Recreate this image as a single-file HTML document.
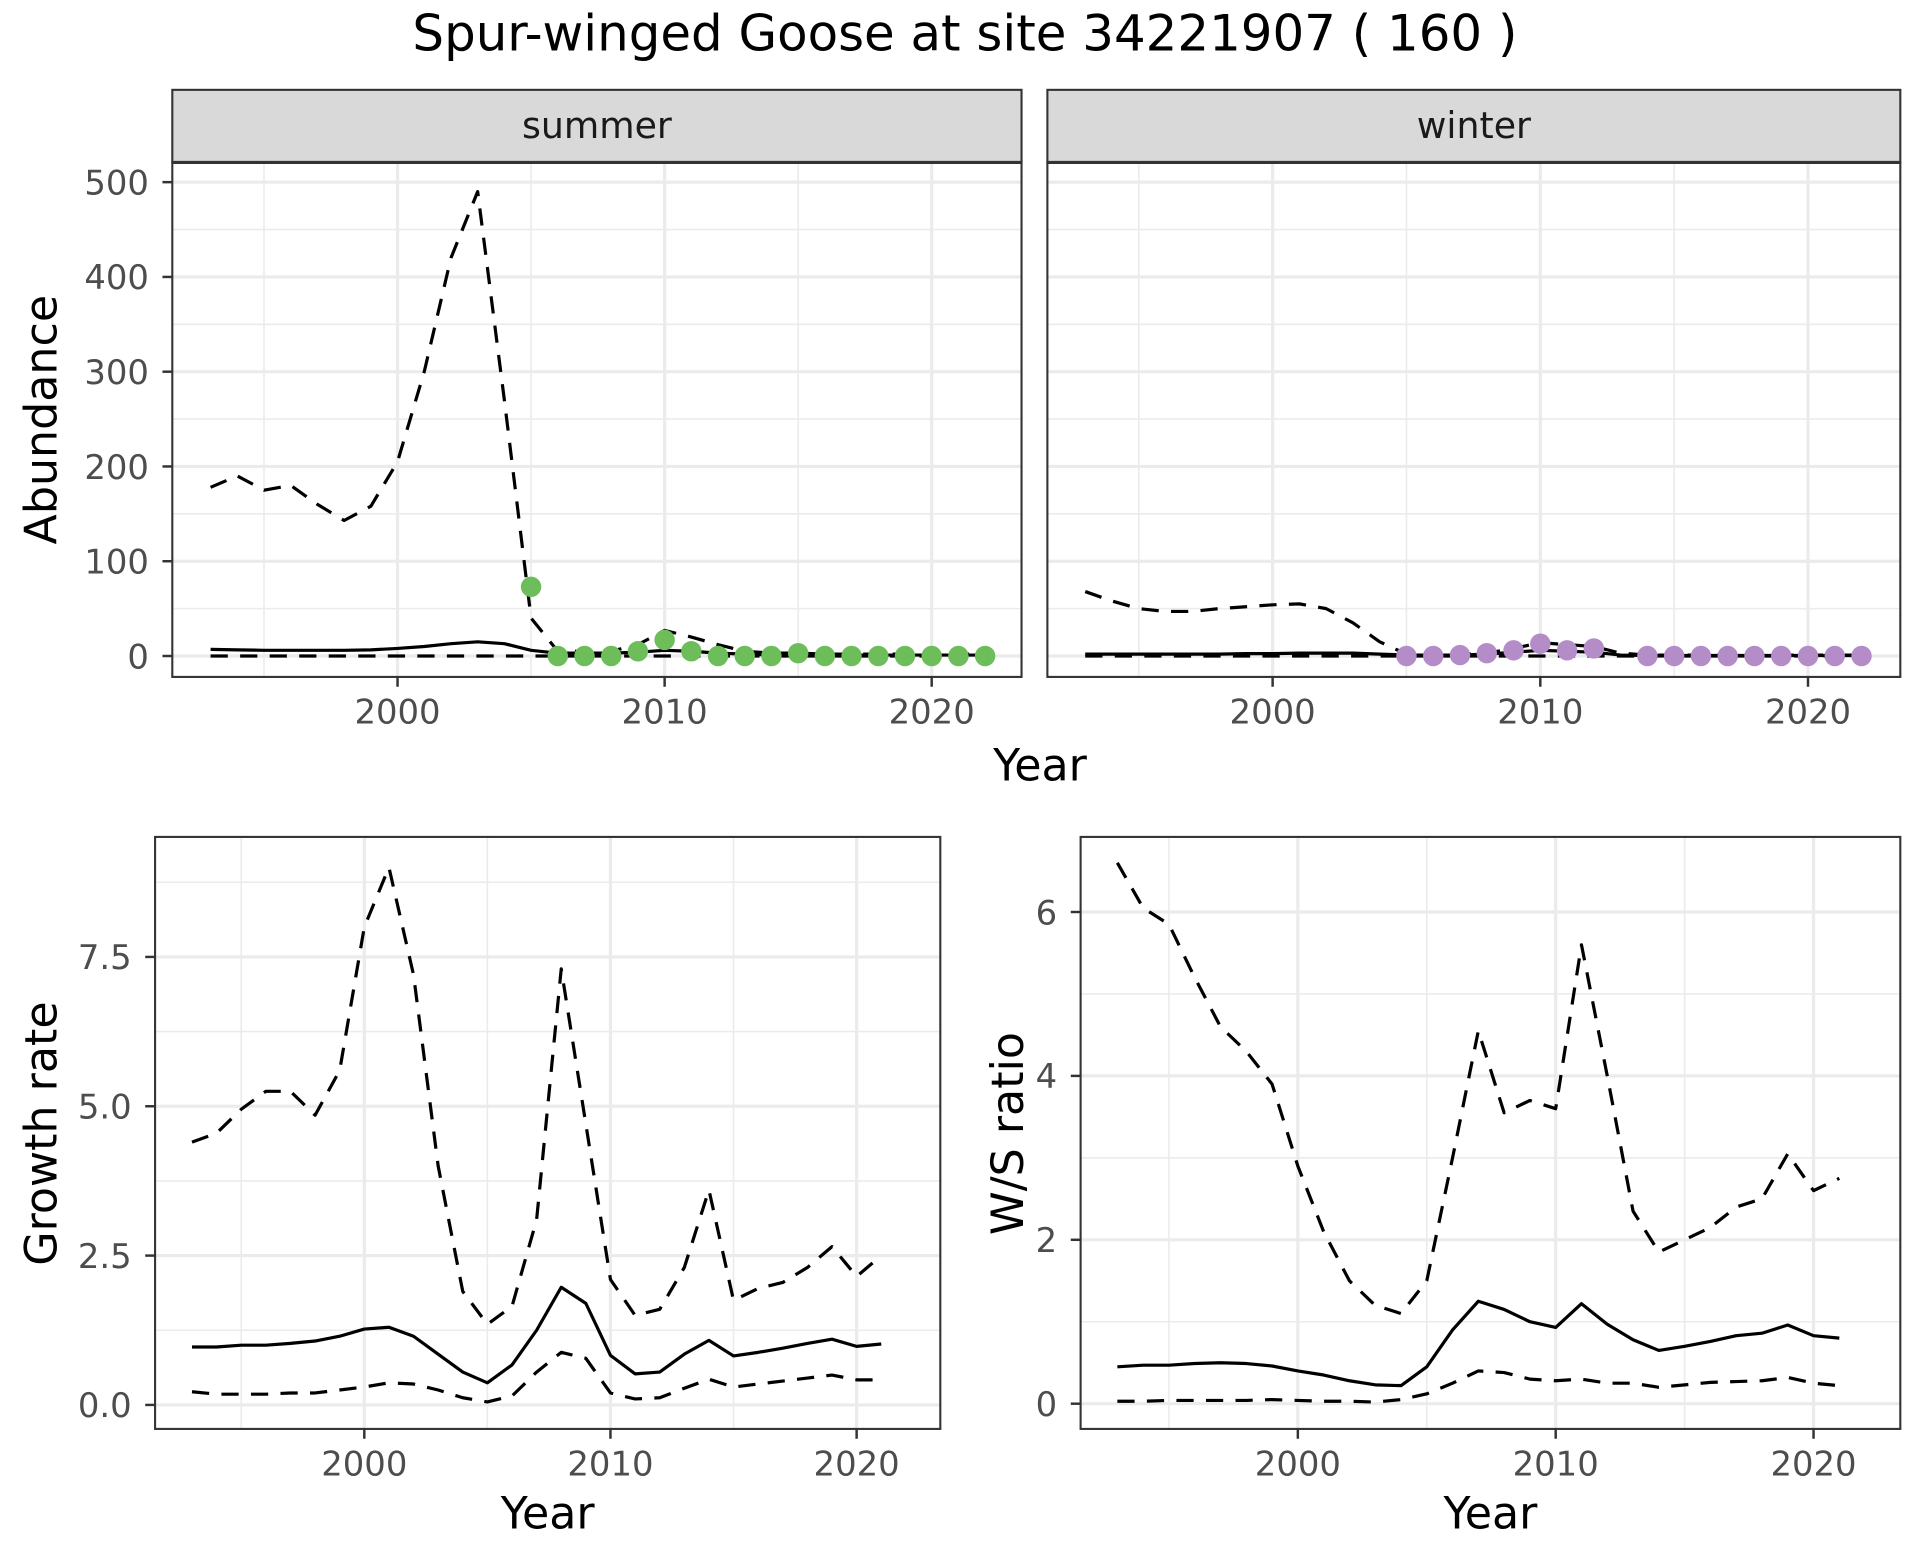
<!DOCTYPE html>
<html><head><meta charset="utf-8"><style>
html,body{margin:0;padding:0;background:#fff;}
svg{display:block;font-family:"DejaVu Sans","Liberation Sans",sans-serif;}
</style></head><body>
<svg id="chart" width="1920" height="1560" viewBox="0 0 1560 1267.5" xmlns="http://www.w3.org/2000/svg">
<text x="784" y="41" font-size="40.5" text-anchor="middle" fill="#000">Spur-winged Goose at site 34221907 ( 160 )</text>
</svg>
<script>
const yearsTop = [1993,1994,1995,1996,1997,1998,1999,2000,2001,2002,2003,2004,2005,2006,2007,2008,2009,2010,2011,2012,2013,2014,2015,2016,2017,2018,2019,2020,2021,2022];
const summerUpper = [178,190,175,180,160,143,158,205,300,420,490,270,40,5,5,5,12,27,20,12,5,3,3,2,2,2,2,2,2,2];
const summerMean = [7,6.5,6,6,6,6,6.5,8,10,13,15,13,6,3,3,3,4,6,5,3,2,1,1,1,1,1,1,1,1,1];
const summerLower = [0,0,0,0,0,0,0,0,0,0,0,0,0,0,0,0,0,0,0,0,0,0,0,0,0,0,0,0,0,0];
const summerPtYears = [2005,2006,2007,2008,2009,2010,2011,2012,2013,2014,2015,2016,2017,2018,2019,2020,2021,2022];
const summerPts = [73,0,0,0,5,17,5,0,0,0,3,0,0,0,0,0,0,0];
const winterUpper = [68,58,50,47,47,50,52,54,55,50,35,15,2,2,2,3,8,14,12,10,3,1,1,1,1,1,1,1,1,1];
const winterMean = [2,2,2,2,2,2,2.5,2.5,3,3,3,2,1,1,1,2,4,6,5,4,1,0.5,0.5,0.5,0.5,0.5,0.5,0.5,0.5,0.5];
const winterLower = [0,0,0,0,0,0,0,0,0,0,0,0,0,0,0,0,0,0,0,0,0,0,0,0,0,0,0,0,0,0];
const winterPtYears = [2005,2006,2007,2008,2009,2010,2011,2012,2014,2015,2016,2017,2018,2019,2020,2021,2022];
const winterPts = [0,0,1,3,6,13,6,8,0,0,0,0,0,0,0,0,0];
const yearsBot = [1993,1994,1995,1996,1997,1998,1999,2000,2001,2002,2003,2004,2005,2006,2007,2008,2009,2010,2011,2012,2013,2014,2015,2016,2017,2018,2019,2020,2021];
const grUpper = [4.4,4.55,4.95,5.25,5.25,4.85,5.6,8.0,9.0,7.2,4.0,1.9,1.35,1.65,3.1,7.3,4.7,2.1,1.5,1.6,2.3,3.6,1.75,1.95,2.05,2.3,2.65,2.15,2.5];
const grMean = [0.97,0.97,1.0,1.0,1.03,1.07,1.15,1.27,1.3,1.15,0.85,0.55,0.37,0.67,1.25,1.97,1.7,0.83,0.52,0.55,0.85,1.08,0.82,0.88,0.95,1.03,1.1,0.98,1.02];
const grLower = [0.22,0.18,0.18,0.18,0.2,0.2,0.25,0.3,0.37,0.35,0.25,0.12,0.05,0.15,0.55,0.88,0.78,0.2,0.1,0.12,0.28,0.43,0.3,0.35,0.4,0.45,0.5,0.42,0.42];
const wsUpper = [6.6,6.05,5.85,5.2,4.6,4.3,3.9,2.9,2.1,1.5,1.2,1.1,1.5,3.0,4.55,3.55,3.7,3.6,5.6,4.0,2.35,1.85,2.0,2.15,2.4,2.5,3.05,2.6,2.75];
const wsMean = [0.45,0.47,0.47,0.49,0.5,0.49,0.46,0.4,0.35,0.28,0.23,0.22,0.45,0.9,1.25,1.15,1.0,0.93,1.22,0.97,0.78,0.65,0.7,0.76,0.83,0.86,0.96,0.83,0.8];
const wsLower = [0.03,0.03,0.04,0.04,0.04,0.04,0.05,0.04,0.03,0.03,0.02,0.05,0.12,0.25,0.4,0.38,0.3,0.28,0.3,0.25,0.25,0.2,0.23,0.26,0.27,0.28,0.32,0.25,0.22];
const xTicks = [2000,2010,2020];
const xMinor = [1995,2005,2015];
const abTicks = [0,100,200,300,400,500];
const abMinor = [50,150,250,350,450];
const grTicks = [0,2.5,5,7.5];
const grMinor = [1.25,3.75,6.25,8.75];
const wsTicks = [0,2,4,6];
const wsMinor = [1,3,5];

const NS = 'http://www.w3.org/2000/svg';
const svg = document.getElementById('chart');
function mk(tag, attrs, parent, text){
  const e = document.createElementNS(NS, tag);
  for (const k in attrs) e.setAttribute(k, attrs[k]);
  if (text !== undefined) e.textContent = text;
  (parent||svg).appendChild(e);
  return e;
}
function lin(d0,d1,r0,r1){ return v => r0 + (v-d0)/(d1-d0)*(r1-r0); }

function panel(cfg){
  const g = mk('g', {});
  
  
  const {x0,x1,y0,y1,sx,sy} = cfg;
  mk('rect',{x:x0,y:y0,width:x1-x0,height:y1-y0,fill:'#fff'},g);
  cfg.yMinor.forEach(v=>{ const l=mk('line',{x1:x0,x2:x1,y1:sy(v),y2:sy(v),stroke:'#ebebeb','stroke-width':1.3},g);   });
  xMinor.forEach(v=>{ const l=mk('line',{x1:sx(v),x2:sx(v),y1:y0,y2:y1,stroke:'#ebebeb','stroke-width':1.3},g);   });
  cfg.yTicks.forEach(v=>{ const l=mk('line',{x1:x0,x2:x1,y1:sy(v),y2:sy(v),stroke:'#ebebeb','stroke-width':2.6},g);   });
  xTicks.forEach(v=>{ const l=mk('line',{x1:sx(v),x2:sx(v),y1:y0,y2:y1,stroke:'#ebebeb','stroke-width':2.6},g);   });
  cfg.series.forEach(s=>{
    const d = s.ys.map((v,i)=>(i?'L':'M')+sx(s.xs[i]).toFixed(2)+' '+sy(v).toFixed(2)).join(' ');
    const p = mk('path',{d:d,fill:'none',stroke:'#000','stroke-width':2.6,'stroke-dasharray':s.dash?'14 10':'none','stroke-linejoin':'round'},g);
    
    
  });
  if (cfg.pts){
    cfg.pts.ys.forEach((v,i)=>{
      const c = mk('circle',{cx:sx(cfg.pts.xs[i]),cy:sy(v),r:8.3,fill:cfg.pts.color},g);
      
      
    });
  }
  mk('rect',{x:x0,y:y0,width:x1-x0,height:y1-y0,fill:'none',stroke:'#333','stroke-width':1.7},g);
  if (cfg.strip){
    const r = mk('rect',{x:x0,y:y0-59,width:x1-x0,height:59,fill:'#d9d9d9',stroke:'#333','stroke-width':1.7},g);
    
    
    mk('line',{x1:x0,x2:x1,y1:y0,y2:y0,stroke:'#333','stroke-width':2.6},g);
    const t = mk('text',{x:(x0+x1)/2,y:y0-20,'font-size':29.5,'text-anchor':'middle',fill:'#1a1a1a'},g,cfg.strip);
    
    
  }
  if (cfg.yLabels){
    cfg.yTicks.forEach(v=>{
      mk('line',{x1:x0-8,x2:x0,y1:sy(v),y2:sy(v),stroke:'#333','stroke-width':2},g);
      const t = mk('text',{x:x0-19,y:sy(v)+10,'font-size':27.5,'text-anchor':'end',fill:'#4d4d4d'},g,cfg.dec?v.toFixed(1):String(v));
      
      
    });
  }
  xTicks.forEach(v=>{
    mk('line',{x1:sx(v),x2:sx(v),y1:y1,y2:y1+8,stroke:'#333','stroke-width':2},g);
    const t = mk('text',{x:sx(v),y:y1+38,'font-size':27.5,'text-anchor':'middle',fill:'#4d4d4d'},g,String(v));
    
    
  });
  return g;
}

const syA = lin(0,500,533,148);
panel({name:'summer-panel',x0:140,x1:830,y0:132,y1:550,sx:lin(2000,2020,323,757),sy:syA,yTicks:abTicks,yMinor:abMinor,yLabels:true,strip:'summer',
  series:[{name:'summer-upper-line',xs:yearsTop,ys:summerUpper,dash:true},{name:'summer-mean-line',xs:yearsTop,ys:summerMean},{name:'summer-lower-line',xs:yearsTop,ys:summerLower,dash:true}],
  pts:{xs:summerPtYears,ys:summerPts,color:'#6dbe5a'}});
panel({name:'winter-panel',x0:851,x1:1544,y0:132,y1:550,sx:lin(2000,2020,1034,1469),sy:syA,yTicks:abTicks,yMinor:abMinor,yLabels:false,strip:'winter',
  series:[{name:'winter-upper-line',xs:yearsTop,ys:winterUpper,dash:true},{name:'winter-mean-line',xs:yearsTop,ys:winterMean},{name:'winter-lower-line',xs:yearsTop,ys:winterLower,dash:true}],
  pts:{xs:winterPtYears,ys:winterPts,color:'#b48cc8'}});
panel({name:'growth-rate-panel',x0:126,x1:764,y0:680,y1:1161,sx:lin(2000,2020,296,696),sy:lin(0,7.5,1141.5,777.5),yTicks:grTicks,yMinor:grMinor,yLabels:true,dec:true,
  series:[{name:'growth-upper-line',xs:yearsBot,ys:grUpper,dash:true},{name:'growth-mean-line',xs:yearsBot,ys:grMean},{name:'growth-lower-line',xs:yearsBot,ys:grLower,dash:true}]});
panel({name:'ws-ratio-panel',x0:878,x1:1544,y0:680,y1:1161,sx:lin(2000,2020,1054.5,1473.5),sy:lin(0,6,1140.5,741),yTicks:wsTicks,yMinor:wsMinor,yLabels:true,
  series:[{name:'ws-upper-line',xs:yearsBot,ys:wsUpper,dash:true},{name:'ws-mean-line',xs:yearsBot,ys:wsMean},{name:'ws-lower-line',xs:yearsBot,ys:wsLower,dash:true}]});

function lbl(name,x,y,txt,rot,size){
  const t = mk('text',{x:x,y:y,'font-size':size,'text-anchor':'middle',fill:'#000',transform:rot?`rotate(-90 ${x} ${y})`:''},svg,txt);
  
  
}
lbl('x-axis-title-top',845,634,'Year',false,36);
lbl('y-axis-title-abundance',46,341,'Abundance',true,36);
lbl('x-axis-title-growth',445,1242,'Year',false,36);
lbl('y-axis-title-growth',46,921,'Growth rate',true,36);
lbl('x-axis-title-ws',1211,1242,'Year',false,36);
lbl('y-axis-title-ws',831,921,'W/S ratio',true,36);
</script>
</body></html>
